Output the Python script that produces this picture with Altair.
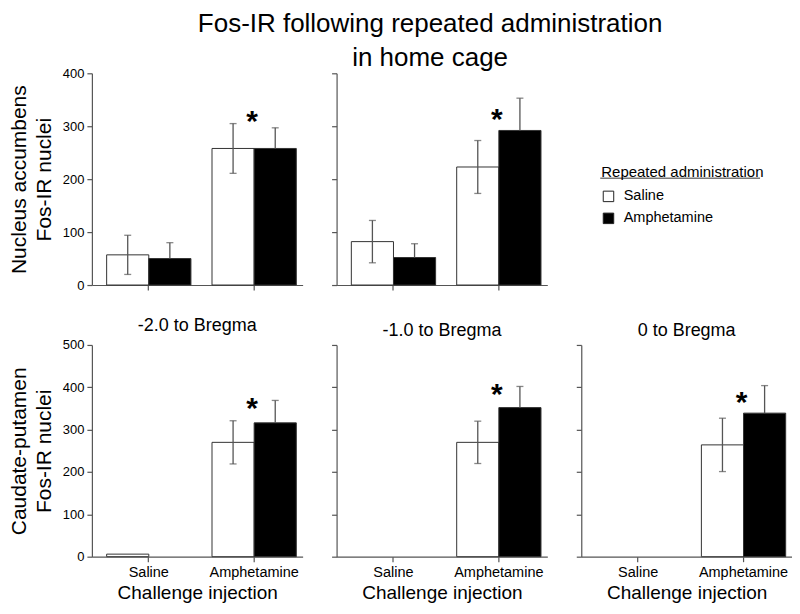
import altair as alt
import pandas as pd

FONT = "Liberation Sans"

challenge = ["Saline", "Amphetamine"]          # challenge injection (x categories)
groups = ["Saline", "Amphetamine"]             # repeated administration (series)

panel_keys = ["nac_m2", "nac_m1", "cp_m2", "cp_m1", "cp_0"]

# means / SEM per panel, indexed by challenge (Saline, Amphetamine)
nac_m2_white_mean = [57, 258]
nac_m2_white_sem = [37, 47]
nac_m2_black_mean = [50, 258]
nac_m2_black_sem = [30, 39]

nac_m1_white_mean = [82, 223]
nac_m1_white_sem = [40, 50]
nac_m1_black_mean = [52, 292]
nac_m1_black_sem = [26, 61]

cp_m2_white_mean = [6, 270]
cp_m2_white_sem = [0, 51]
cp_m2_black_mean = [0, 316]
cp_m2_black_sem = [0, 53]

cp_m1_white_mean = [0, 270]
cp_m1_white_sem = [0, 50]
cp_m1_black_mean = [0, 352]
cp_m1_black_sem = [0, 50]

cp_0_white_mean = [0, 264]
cp_0_white_sem = [0, 63]
cp_0_black_mean = [0, 339]
cp_0_black_sem = [0, 65]

# significance star height (value units), over the Amphetamine challenge group
star_y = {"nac_m2": 320, "nac_m1": 324, "cp_m2": 362, "cp_m1": 395, "cp_0": 378}

subtitles = {"cp_m2": "-2.0 to Bregma", "cp_m1": "-1.0 to Bregma", "cp_0": "0 to Bregma"}

series = {
    "nac_m2": (nac_m2_white_mean, nac_m2_white_sem, nac_m2_black_mean, nac_m2_black_sem),
    "nac_m1": (nac_m1_white_mean, nac_m1_white_sem, nac_m1_black_mean, nac_m1_black_sem),
    "cp_m2": (cp_m2_white_mean, cp_m2_white_sem, cp_m2_black_mean, cp_m2_black_sem),
    "cp_m1": (cp_m1_white_mean, cp_m1_white_sem, cp_m1_black_mean, cp_m1_black_sem),
    "cp_0": (cp_0_white_mean, cp_0_white_sem, cp_0_black_mean, cp_0_black_sem),
}

rows = []
for key in panel_keys:
    wm, ws, bm, bs = series[key]
    for i, c in enumerate(challenge):
        rows.append(dict(panel=key, challenge=c, group="Saline", mean=wm[i], sem=ws[i],
                         lo=wm[i] - ws[i], hi=wm[i] + ws[i]))
        rows.append(dict(panel=key, challenge=c, group="Amphetamine", mean=bm[i], sem=bs[i],
                         lo=bm[i], hi=bm[i] + bs[i]))
df = pd.DataFrame(rows)

W = 211
H = 212

color_scale = alt.Scale(domain=groups, range=["white", "black"])
legend = alt.Legend(orient="none", legendX=510, legendY=92, title="Repeated administration",
                    titleFontSize=15, titleFontWeight="normal", titleColor="black",
                    labelFontSize=14.5, labelColor="black", symbolType="square",
                    symbolSize=110, symbolStrokeColor="#222", symbolStrokeWidth=1,
                    symbolOpacity=1, rowPadding=6, titlePadding=9, offset=0,
                    padding=0, labelOffset=8)


def panel(key, ymax, ytitle=None, first=False, bottom=False):
    d = df[df.panel == key]
    base = alt.Chart(d)
    if bottom:
        xaxis = alt.Axis(title="Challenge injection", labelAngle=0, labelFontSize=14.5,
                         titleFontSize=19, titleFontWeight="normal", titlePadding=4,
                         labelPadding=4, labelColor="black", titleColor="black")
    else:
        xaxis = alt.Axis(title=None, labels=False)
    x = alt.X("challenge:N", sort=challenge, axis=xaxis,
              scale=alt.Scale(domain=challenge, paddingInner=0.2, paddingOuter=0.1, align=0.7))
    xo = alt.XOffset("group:N", sort=groups,
                     scale=alt.Scale(domain=groups, paddingInner=0, paddingOuter=0))
    vals = list(range(0, ymax + 1, 100))
    if first:
        yaxis = alt.Axis(title=ytitle, values=vals, labelFontSize=13, labelColor="black",
                         titleFontSize=21, titleFontWeight="normal", titleColor="black",
                         titleLineHeight=25, titlePadding=8, labelPadding=3)
    else:
        yaxis = alt.Axis(title=None, values=vals, labels=False)
    y = alt.Y("mean:Q", scale=alt.Scale(domain=[0, ymax], nice=False), axis=yaxis)

    bars = base.transform_filter("datum.mean > 0").mark_bar(stroke="#333", strokeWidth=1).encode(
        x=x, xOffset=xo, y=y,
        color=alt.Color("group:N", scale=color_scale, legend=legend),
    )
    err = base.transform_filter("datum.sem > 0").mark_rule(color="#555", strokeWidth=1.3).encode(
        x=x, xOffset=xo, y="lo:Q", y2="hi:Q")
    cap_hi = base.transform_filter("datum.sem > 0").mark_tick(
        color="#555", size=7, thickness=1.3, orient="horizontal").encode(x=x, xOffset=xo, y="hi:Q")
    cap_lo = base.transform_filter("datum.sem > 0 && datum.lo < datum.mean").mark_tick(
        color="#555", size=7, thickness=1.3, orient="horizontal").encode(x=x, xOffset=xo, y="lo:Q")
    star = alt.Chart(pd.DataFrame({"challenge": ["Amphetamine"], "star": [star_y[key]]})).mark_text(
        text="*", fontSize=30, fontWeight="bold", color="black", baseline="middle", dy=6, dx=-2
    ).encode(x=alt.X("challenge:N", sort=challenge), y="star:Q")

    props = dict(width=W, height=H)
    if key in subtitles:
        props["title"] = alt.TitleParams(subtitles[key], fontSize=18, fontWeight="normal",
                                         anchor="middle", offset=4, color="black")
    return alt.layer(bars, err, cap_hi, cap_lo, star).properties(**props)


p1 = panel("nac_m2", 400, ["Nucleus accumbens", "Fos-IR nuclei"], first=True)
p2 = panel("nac_m1", 400)
underline = alt.Chart(alt.Data(values=[{}])).mark_rule(color="#333", strokeWidth=1).encode(
    x=alt.value(25), x2=alt.value(185), y=alt.value(105)
).properties(width=180, height=H)
p3 = panel("cp_m2", 500, ["Caudate-putamen", "Fos-IR nuclei"], first=True, bottom=True)
p4 = panel("cp_m1", 500, bottom=True)
p5 = panel("cp_0", 500, bottom=True)

top = alt.hconcat(p1, p2, underline, spacing=28)
bot = alt.hconcat(p3, p4, p5, spacing=28)

chart = alt.vconcat(top, bot, spacing=25).properties(
    title=alt.TitleParams(["Fos-IR following repeated administration", "in home cage"],
                          fontSize=26, fontWeight="normal", anchor="middle", lineHeight=34,
                          color="black", offset=-4, dx=30),
    padding={"left": 0, "top": 3, "right": 0, "bottom": 0},
).configure(font=FONT).configure_view(stroke=None).configure_axis(
    domainColor="#555", tickColor="#555", tickSize=5, grid=False, domainWidth=1.2, tickWidth=1.2
)

chart.save("out.html", embed_options={"renderer": "svg", "actions": False})
